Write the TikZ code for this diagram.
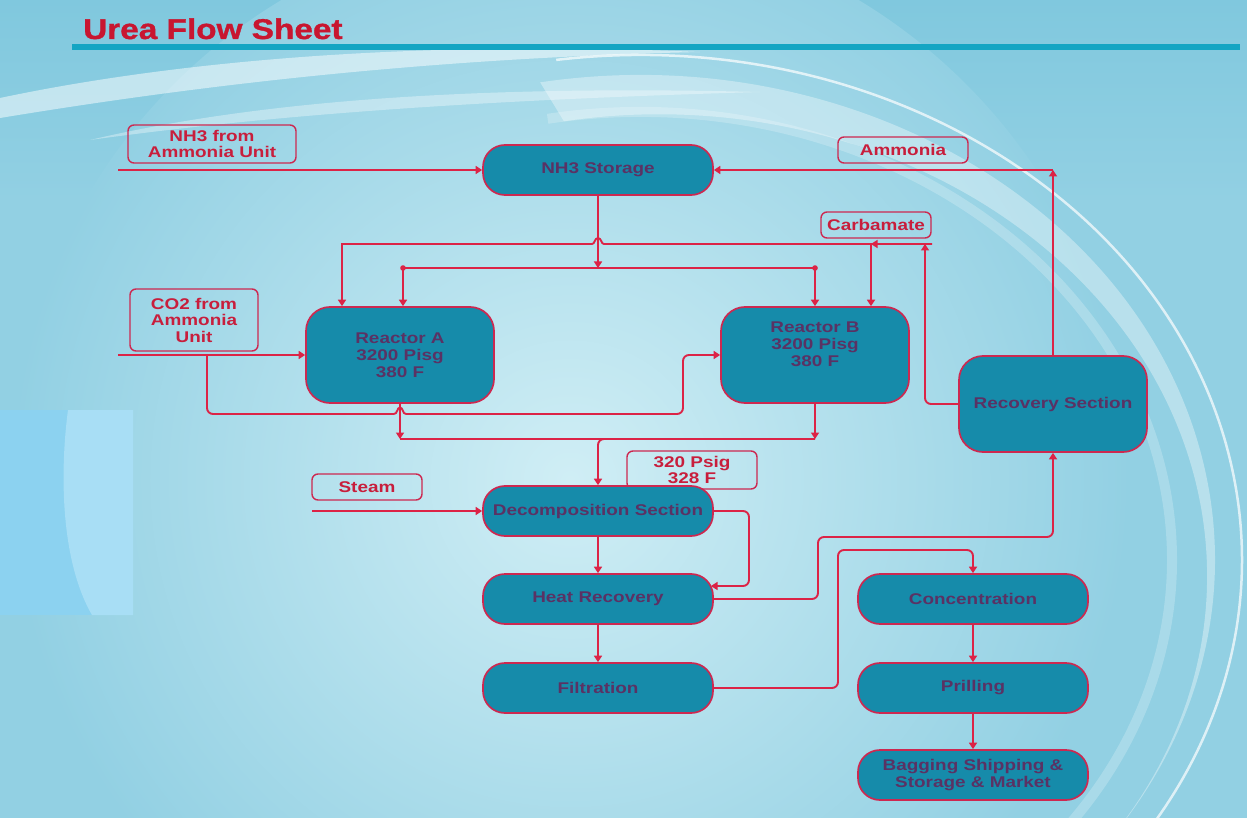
\documentclass[tikz,border=0pt]{standalone}
\usepackage{fontspec}
\setmainfont{Liberation Sans}
\newfontfamily\dfont[FakeStretch=1.22]{Liberation Sans}
\newfontfamily\tfont[FakeStretch=1.17,FakeBold=1.2]{Liberation Sans}
\usetikzlibrary{arrows.meta}
\definecolor{bgbase}{RGB}{146,208,227}
\definecolor{bgtop}{RGB}{128,200,222}
\definecolor{bglight}{RGB}{208,238,245}
\definecolor{nodefill}{RGB}{22,139,170}
\definecolor{edgecol}{RGB}{205,40,80}
\definecolor{linecol}{RGB}{220,35,70}
\definecolor{nodetext}{RGB}{90,50,100}
\definecolor{lbltext}{RGB}{200,30,60}
\definecolor{titlecol}{RGB}{200,22,48}
\definecolor{barcol}{RGB}{20,165,195}
\definecolor{sidecol}{RGB}{140,210,240}
\definecolor{sidelight}{RGB}{168,222,245}
\begin{document}
\begin{tikzpicture}[x=1pt,y=-1pt,
 proc/.style={draw=edgecol, line width=1.7pt, fill=nodefill, text=nodetext,
   font=\dfont\bfseries\fontsize{15.5}{17}\selectfont, align=center, inner sep=0pt,
   minimum width=230pt, minimum height=50pt, rounded corners=22pt},
 big/.style={proc, minimum width=188pt, minimum height=96pt, rounded corners=24pt},
 lbl/.style={draw=edgecol, line width=1.4pt, rounded corners=6pt, text=lbltext,
   font=\dfont\bfseries\fontsize{15.5}{16.5}\selectfont, align=center, inner sep=0pt},
 conn/.style={draw=linecol, line width=1.9pt},
 flow/.style={conn, -{Triangle[length=6.5pt,width=8pt]}},
 swoosh/.style={white, opacity=#1},
]
% ---------- background ----------
\useasboundingbox (0,0) rectangle (1247,818);
\fill[bgbase] (0,0) rectangle (1247,818);
\shade[top color=bgtop, bottom color=bgbase] (0,0) rectangle (1247,200);
\shade[inner color=bglight, outer color=bgbase] (570,480) circle (560pt);
\fill[sidecol] (0,410) rectangle (133,615);
\fill[sidelight] (68,410) .. controls (60,470) and (60,560) .. (92,615) -- (133,615) -- (133,410) -- cycle;
\begin{scope}
\clip (0,0) rectangle (1247,818);
% tapered white crescents of the ring
\fill[swoosh=0.35] (640,560) ++(100:575pt and 485pt) arc [start angle=100, end angle=-45, x radius=575pt, y radius=485pt]
   arc [start angle=-45, end angle=100, x radius=548pt, y radius=462pt] -- cycle;
\draw[swoosh=0.7, line width=2.5pt] (640,560) ++(98:602pt and 505pt) arc [start angle=98, end angle=-40, x radius=602pt, y radius=505pt];
\draw[swoosh=0.22, line width=10pt] (640,560) ++(100:532pt and 448pt) arc [start angle=100, end angle=-45, x radius=532pt, y radius=448pt];
\fill[swoosh=0.5] (0,98) .. controls (180,60) and (420,40) .. (700,52)
   .. controls (430,58) and (200,85) .. (0,118) -- cycle;
\fill[swoosh=0.35] (90,140) .. controls (260,100) and (480,85) .. (760,92)
   .. controls (480,100) and (270,115) .. (90,140) -- cycle;
\end{scope}
% ---------- title ----------
\node[anchor=base west, inner sep=0pt, text=titlecol,
  font=\tfont\bfseries\fontsize{28.5}{30}\selectfont] (title) at (83,39) {Urea Flow Sheet};
\fill[barcol] (72,44) rectangle (1240,50);
% ---------- labels ----------
\node[lbl, minimum width=168pt, minimum height=38pt] (lnh3) at (212,144) {NH3 from\\Ammonia Unit};
\node[lbl, minimum width=130pt, minimum height=26pt] (lamm) at (903,150) {Ammonia};
\node[lbl, minimum width=110pt, minimum height=26pt] (lcarb) at (876,225) {Carbamate};
\node[lbl, minimum width=128pt, minimum height=62pt] (lco2) at (194,320) {CO2 from\\Ammonia\\Unit};
\node[lbl, minimum width=130pt, minimum height=38pt] (lpsig) at (692,470) {320 Psig\\328 F};
\node[lbl, minimum width=110pt, minimum height=26pt] (lsteam) at (367,487) {Steam};
% ---------- process nodes ----------
\node[proc] (storage) at (598,170) {NH3 Storage};
\node[big] (ra) at (400,355) {Reactor A\\3200 Pisg\\380 F};
\node[big] (rb) at (815,355) {\raisebox{5pt}[0pt][0pt]{\begin{tabular}{@{}c@{}}Reactor B\\3200 Pisg\\380 F\end{tabular}}};
\node[big] (rec) at (1053,404) {Recovery Section};
\node[proc] (dec) at (598,511) {Decomposition Section};
\node[proc] (hr) at (598,599) {Heat Recovery};
\node[proc] (fil) at (598,688) {Filtration};
\node[proc] (con) at (973,599) {Concentration};
\node[proc] (pri) at (973,688) {Prilling};
\node[proc] (bag) at (973,775) {Bagging Shipping \&\\Storage \& Market};
% ---------- coordinates ----------
\coordinate (nh3in) at (118,170);
\coordinate (co2in) at (118,355);
\coordinate (steamin) at (312,511);
\coordinate (fa) at (403,268);
\coordinate (fb) at (815,268);
\coordinate (ca) at (342,244);
\coordinate (cb) at (871,244);
\coordinate (cup) at (925,244);
\coordinate (cend) at (932,244);
\coordinate (cbr) at (207,355);
\coordinate (pa) at (400,439);
\coordinate (hrin) at (711,586);
% ---------- connectors ----------
\draw[flow] (nh3in) -- (storage.west);
\draw[flow] (rec.north) -- (rec.north |- storage.east);
\draw[flow] (rec.north |- storage.east) -- (storage.east);
% NH3 to reactors
\draw[flow] (storage.south) -- (storage.south |- fa);
\draw[conn] (fa) -- (fb);
\draw[flow] (fa) -- (fa |- ra.north);
\draw[flow] (fb) -- (fb |- rb.north);
\fill[linecol] (fa) circle (2.8pt);
\fill[linecol] (fb) circle (2.8pt);
% carbamate recycle
\draw[flow, rounded corners=6pt] (rec.west) -| (cup);
\draw[flow] (cend) -- (604,244) .. controls (601,244) and (601.5,238) .. (598,238)
   .. controls (594.5,238) and (595,244) .. (592,244) -- (ca) -- (ca |- ra.north);
\draw[flow] (cb) -- (cb |- rb.north);
\draw[flow] ([xshift=5pt]cb) -- (cb);
% CO2 feed
\draw[flow] (co2in) -- (ra.west);
\draw[conn, rounded corners=6pt] (cbr) |- (394,414);
\draw[conn] (394,414) .. controls (397.5,414) and (397,407.5) .. (400,407.5)
   .. controls (403,407.5) and (402.5,414) .. (406,414);
\draw[flow, rounded corners=6pt] (406,414) -- (683,414) -- (683,355) -- (rb.west);
% reactor products
\draw[flow] (ra.south) -- (pa);
\draw[flow] (rb.south) -- (rb.south |- pa);
\draw[conn] (pa) -- (rb.south |- pa);
\draw[flow, rounded corners=6pt] (rb.south |- pa) -- (dec.north |- pa) -- (dec.north);
% decomposition and after
\draw[flow] (steamin) -- (dec.west);
\draw[flow] (dec.south) -- (hr.north);
\draw[flow, rounded corners=6pt] (dec.east) -- (749,511) -- (749,586) -- (hrin);
\draw[flow] (hr.south) -- (fil.north);
\draw[flow, rounded corners=6pt] (hr.east) -- (818,599) -- (818,537) -- (1053,537) -- (rec.south);
\draw[flow, rounded corners=6pt] (fil.east) -- (838,688) -- (838,550) -- (973,550) -- (con.north);
\draw[flow] (con.south) -- (pri.north);
\draw[flow] (pri.south) -- (bag.north);
\end{tikzpicture}
\end{document}
